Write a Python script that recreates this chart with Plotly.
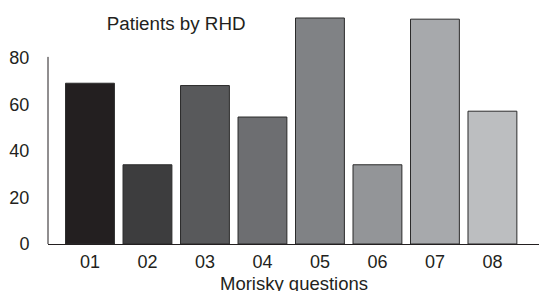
import plotly.graph_objects as go

categories = ["01", "02", "03", "04", "05", "06", "07", "08"]
patients = [69, 34, 68, 54.5, 97, 34, 96.5, 57]
bar_colors = ["#231f20", "#3d3d3e", "#58595b", "#6d6e71", "#808285", "#939598", "#a7a9ac", "#bcbec0"]
y_ticks = [0, 20, 40, 60, 80]

FONT = "Liberation Sans, Arial, sans-serif"

fig = go.Figure()
fig.add_trace(go.Bar(
    x=categories,
    y=patients,
    marker=dict(color=bar_colors, line=dict(color="#2b2b2b", width=1)),
    width=0.85,
    hoverinfo="skip",
))

fig.update_layout(
    width=539, height=291,
    margin=dict(l=48, r=0, t=11, b=47, autoexpand=False),
    paper_bgcolor="white", plot_bgcolor="white",
    font=dict(family=FONT, size=18, color="#231f20"),
    showlegend=False,
    bargap=0.15,
    title=dict(text="Patients by RHD", x=0.261, xref="paper", xanchor="center",
               y=1 - 23.5 / 291, yref="container", yanchor="middle",
               font=dict(family=FONT, size=18.8, color="#231f20")),
    xaxis=dict(
        range=[-0.73, 7.81], automargin=False,
        showline=True, linecolor="#231f20", linewidth=1,
        showgrid=False, zeroline=False,
        ticks="outside", ticklen=1, tickcolor="rgba(0,0,0,0)",
        tickfont=dict(size=18),
    ),
    yaxis=dict(
        range=[0, 100], automargin=False,
        tickvals=y_ticks,
        showline=False, showgrid=False, zeroline=False,
        ticks="outside", ticklen=14, tickcolor="rgba(0,0,0,0)",
        tickfont=dict(size=18),
    ),
    annotations=[dict(text="Morisky questions", xref="paper", x=0.501, xanchor="center",
                      yref="paper", y=0, yanchor="middle", yshift=-39.5, showarrow=False,
                      font=dict(family=FONT, size=18.5, color="#231f20"))],
    shapes=[dict(type="line", xref="paper", x0=0, x1=0, yref="y", y0=0, y1=80.3,
                 line=dict(color="#231f20", width=1))],
)

fig.write_html("out.html", config={"displayModeBar": False},
               post_script="document.body.style.margin='0';document.body.style.overflow='hidden';")
